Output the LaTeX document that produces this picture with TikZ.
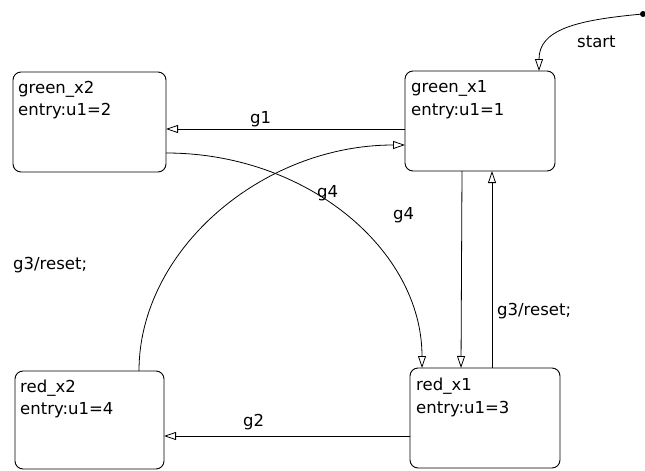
\documentclass[tikz,border=0pt]{standalone}
\usepackage{fontspec}
\setmainfont{DejaVu Sans}
\usetikzlibrary{arrows.meta}
\begin{document}
\begin{tikzpicture}[x=1pt,y=-1pt,
  every node/.style={font=\fontsize{16.5}{22}\selectfont, inner sep=0pt},
  statebox/.style={draw, line width=0.9pt, rounded corners=8pt},
  trans/.style={draw, line width=0.8pt, -{Triangle[open,length=12pt,width=8pt,fill=white]}},
  lbl/.style={anchor=base west}]
\useasboundingbox (0,0) rectangle (645,471);
% states
\draw[statebox] (13,72) rectangle (166,172);
\coordinate (gx2) at (13,72);
\node[lbl] (gx2a) at (18,93) {green\_x2};
\node[lbl] (gx2b) at (18,115) {entry:u1=2};
\draw[statebox] (405,71) rectangle (555,171);
\node[lbl] (gx1a) at (411,92) {green\_x1};
\node[lbl] (gx1b) at (411,115) {entry:u1=1};
\draw[statebox] (410,368) rectangle (560,468);
\node[lbl] (rx1a) at (416,390) {red\_x1};
\node[lbl] (rx1b) at (416,413) {entry:u1=3};
\draw[statebox] (15,371) rectangle (164,469);
\node[lbl] (rx2a) at (20,392) {red\_x2};
\node[lbl] (rx2b) at (20,414) {entry:u1=4};
% connector end points
\coordinate (dot) at (643,14);
\coordinate (gx1top) at (539,71);
\coordinate (gx1left1) at (405,129);
\coordinate (gx2right1) at (166,129);
\coordinate (gx2right2) at (166,153);
\coordinate (rx1top1) at (422,368);
\coordinate (rx2top) at (139,371);
\coordinate (gx1left2) at (405,145);
\coordinate (gx1bot1) at (462,171);
\coordinate (rx1top2) at (461,368);
\coordinate (rx1top3) at (492,368);
\coordinate (gx1bot2) at (492,171);
\coordinate (rx1left) at (410,436);
\coordinate (rx2right) at (164,436);
% transitions
\fill (dot) circle (3pt);
\draw[trans] (dot) .. controls (575,20) and (539,30) .. (gx1top);
\draw[trans] (gx1left1) -- (gx2right1);
\draw[trans] (gx2right2) .. controls (307,153) and (422,250) .. (rx1top1);
\draw[trans] (rx2top) .. controls (139,250) and (262,145) .. (gx1left2);
\draw[trans] (gx1bot1) -- (rx1top2);
\draw[trans] (rx1top3) -- (gx1bot2);
\draw[trans] (rx1left) -- (rx2right);
% labels
\node[lbl] (lstart) at (577,47) {start};
\node[lbl] (lg1) at (250,123) {g1};
\node[lbl] (lg2) at (243,426) {g2};
\node[lbl] (lg4a) at (317,197) {g4};
\node[lbl] (lg4b) at (393,219) {g4};
\node[lbl] (lg3a) at (13,269) {g3/reset;};
\node[lbl] (lg3b) at (497,315) {g3/reset;};
\end{tikzpicture}
\end{document}
